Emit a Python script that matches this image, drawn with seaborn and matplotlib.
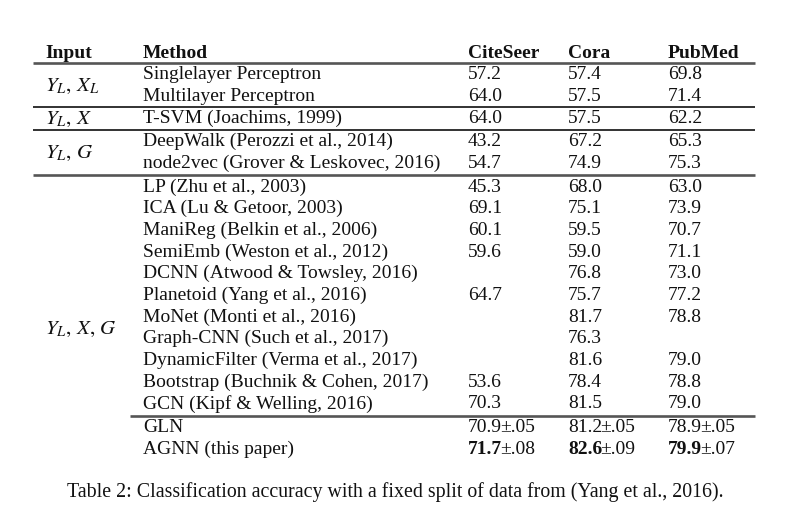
import numpy as np
import pandas as pd
import seaborn as sns
import matplotlib.pyplot as plt

sns.set_theme(style="white")
plt.rcParams['font.family'] = ['Liberation Serif', 'DejaVu Serif']
plt.rcParams['mathtext.fontset'] = 'stix'

# table content
headers = ["Input", "Method", "CiteSeer", "Cora", "PubMed"]
methods = [
    "Singlelayer Perceptron", "Multilayer Perceptron", "T-SVM (Joachims, 1999)",
    "DeepWalk (Perozzi et al., 2014)", "node2vec (Grover & Leskovec, 2016)",
    "LP (Zhu et al., 2003)", "ICA (Lu & Getoor, 2003)", "ManiReg (Belkin et al., 2006)",
    "SemiEmb (Weston et al., 2012)", "DCNN (Atwood & Towsley, 2016)",
    "Planetoid (Yang et al., 2016)", "MoNet (Monti et al., 2016)",
    "Graph-CNN (Such et al., 2017)", "DynamicFilter (Verma et al., 2017)",
    "Bootstrap (Buchnik & Cohen, 2017)", "GCN (Kipf & Welling, 2016)",
    "GLN", "AGNN (this paper)",
]
citeseer = [57.2, 64.0, 64.0, 43.2, 54.7, 45.3, 69.1, 60.1, 59.6, None, 64.7, None,
            None, None, 53.6, 70.3, 70.9, 71.7]
cora = [57.4, 57.5, 57.5, 67.2, 74.9, 68.0, 75.1, 59.5, 59.0, 76.8, 75.7, 81.7,
        76.3, 81.6, 78.4, 81.5, 81.2, 82.6]
pubmed = [69.8, 71.4, 62.2, 65.3, 75.3, 63.0, 73.9, 70.7, 71.1, 73.0, 77.2, 78.8,
          None, 79.0, 78.8, 79.0, 78.9, 79.9]
std_citeseer = {16: ".05", 17: ".08"}
std_cora = {16: ".05", 17: ".09"}
std_pubmed = {16: ".05", 17: ".07"}
best_row = 17

input_groups = [r"$Y_L,\, X_L$", r"$Y_L,\, X$", r"$Y_L,\, G$", r"$Y_L,\, X,\, G$"]
group_rows = [(0, 1), (2, 2), (3, 4), (5, 17)]
rule_before = [0, 2, 3, 5, 16]   # rows with a horizontal rule above them
caption = "Table 2: Classification accuracy with a fixed split of data from (Yang et al., 2016)."

df = pd.DataFrame({"Method": methods, "CiteSeer": citeseer, "Cora": cora, "PubMed": pubmed})

# layout (pixels)
W, H = 794, 524
col_x = [45, 143, 468, 568, 668]
y0, pitch = 79, 21.7
extra = {2: 1, 3: 2, 5: 4, 16: 6}
fs = 14.0

fig = plt.figure(figsize=(W / 100, H / 100), dpi=100)
ax = fig.add_axes([0, 0, 1, 1])
ax.set_xlim(0, W)
ax.set_ylim(H, 0)
ax.axis('off')

row_y = []
ex = 0
for i in range(len(df)):
    ex = extra.get(i, ex)
    row_y.append(y0 + i * pitch + ex)

# header
for x, h in zip(col_x, headers):
    ax.text(x, 57.5, h, fontsize=fs, fontweight='bold', va='baseline', ha='left', color='#111')

# rules
for r in rule_before:
    yr = row_y[r] - 16.5
    x_start = 130 if r == 16 else 33
    lw = 1.9 if r in (0, 5, 16) else 1.3
    col = '#555' if r in (0, 5, 16) else '#222'
    ax.hlines(yr, x_start, 755, color=col, lw=lw)

for i, row in df.iterrows():
    y = row_y[i]
    ax.text(col_x[1], y, row["Method"], fontsize=fs, va='baseline', color='#111')
    for x, col, stds in zip(col_x[2:], ["CiteSeer", "Cora", "PubMed"],
                            [std_citeseer, std_cora, std_pubmed]):
        v = row[col]
        if pd.isna(v):
            continue
        t = ax.text(x, y, f"{v:.1f}", fontsize=fs, va='baseline', color='#111',
                    fontweight='bold' if i == best_row else 'normal')
        if i in stds:
            ax.annotate("±" + stds[i], xy=(1, 0), xycoords=t, xytext=(-1.3, 0),
                        textcoords='offset points', fontsize=fs,
                        va='bottom', ha='left', color='#111')

for lab, (a, b) in zip(input_groups, group_rows):
    y = (row_y[a] + row_y[b]) / 2 + 1
    if b - a > 5:
        y += 10
    ax.text(col_x[0], y, lab, fontsize=fs + 1, va='baseline', color='#111')

ax.text(W / 2 - 2, 497, caption, fontsize=14.3, va='baseline', ha='center', color='#111')

fig.savefig("out.png", dpi=100, facecolor='white')
